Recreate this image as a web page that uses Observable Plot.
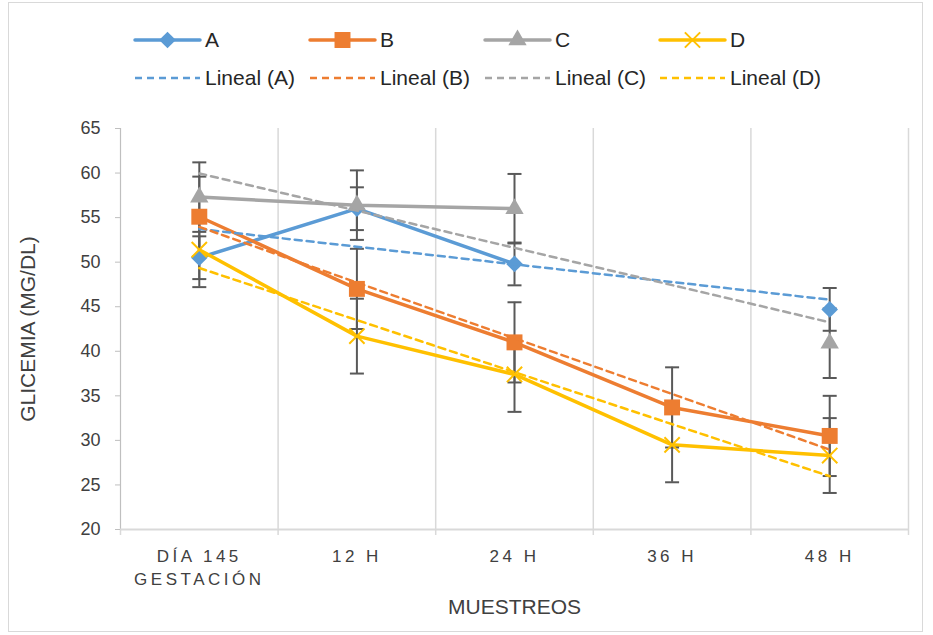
<!DOCTYPE html>
<html><head><meta charset="utf-8">
<script src="https://cdn.jsdelivr.net/npm/d3@7"></script>
<script src="https://cdn.jsdelivr.net/npm/@observablehq/plot@0.6"></script>
<style>
body{margin:0;background:#fff;font-family:"Liberation Sans",Arial,sans-serif;}
#wrap{position:relative;width:933px;height:635px;overflow:hidden;}
#border{position:absolute;left:8px;top:2px;width:915px;height:630px;border:1px solid #d9d9d9;box-sizing:border-box;}
#legend{position:absolute;left:0;top:0;}
#chart{position:absolute;left:0;top:100px;}
#chart [aria-label="x-axis tick label"] text{letter-spacing:3.5px;}
</style></head><body>
<div id="wrap"><div id="border"></div><div id="legend"></div><div id="chart"></div></div>
<script>
// ---- data ----
const categories = ["DÍA 145\nGESTACIÓN", "12 H", "24 H", "36 H", "48 H"];
const seriesNames = ["A", "B", "C", "D"];
const seriesColors = ["#5B9BD5", "#ED7D31", "#A5A5A5", "#FFC000"];
const trendNames = ["Lineal (A)", "Lineal (B)", "Lineal (C)", "Lineal (D)"];
const valuesA = [50.5, 56.0, 49.8, null, 44.7];
const valuesB = [55.1, 47.0, 41.0, 33.7, 30.5];
const valuesC = [57.3, 56.4, 56.0, null, 40.9];
const valuesD = [51.4, 41.7, 37.4, 29.5, 28.3];
const errorsA = [2.4, 2.4, 2.4, null, 2.4];
const errorsB = [4.5, 4.5, 4.5, 4.5, 4.5];
const errorsC = [3.9, 3.9, 3.9, null, 3.9];
const errorsD = [4.2, 4.2, 4.2, 4.2, 4.2];
const yTicks = [20, 25, 30, 35, 40, 45, 50, 55, 60, 65];
const yTitle = "GLICEMIA (MG/DL)";
const xTitle = "MUESTREOS";

const allValues = [valuesA, valuesB, valuesC, valuesD];
const allErrors = [errorsA, errorsB, errorsC, errorsD];
const symbols = ["diamond2", "square", "triangle", "times"];

const rows = [];
seriesNames.forEach((s, si) => {
  allValues[si].forEach((v, i) => rows.push({series: s, x: i + 1, y: v, err: allErrors[si][i]}));
});
const valid = rows.filter(d => d.y != null);
const centers = categories.map((_, i) => i + 1);
const bounds = [0.5, ...categories.map((_, i) => i + 1.5)];

const hline = {draw(ctx, size) { const r = Math.sqrt(size / Math.PI); ctx.moveTo(-r, 0); ctx.lineTo(r, 0); }};
const textColor = "#404040";
const font = '"Liberation Sans", Arial, sans-serif';

const chart = Plot.plot({
  width: 933, height: 535,
  marginLeft: 120, marginRight: 25, marginTop: 28, marginBottom: 106,
  x: {type: "linear", domain: [0.5, categories.length + 0.5]},
  y: {domain: [20, 65]},
  color: {domain: seriesNames, range: seriesColors},
  symbol: {domain: seriesNames, range: symbols},
  style: {fontFamily: font, fontSize: "17px", color: textColor, background: "transparent"},
  marks: [
    Plot.ruleX(bounds.slice(1), {stroke: "#d9d9d9", strokeWidth: 1.5}),
    Plot.ruleX([0.5], {stroke: "#bfbfbf", strokeWidth: 1.2}),
    Plot.ruleY([20], {stroke: "#d9d9d9", strokeWidth: 2}),
    Plot.axisX(bounds, {tickSize: 6, stroke: "#d9d9d9", strokeWidth: 1.5, tickFormat: () => "", label: null}),
    Plot.axisX(centers, {tickSize: 0, tickPadding: 16, tickFormat: i => categories[i - 1], fontSize: 17, fill: textColor, label: null, lineHeight: 1.35}),
    Plot.axisY(yTicks, {tickSize: 5, tickPadding: 15, stroke: "#bfbfbf", fontSize: 18, fill: textColor, label: null}),
    Plot.line(rows, {x: "x", y: "y", z: "series", stroke: "series", strokeWidth: 3.5, curve: "linear"}),
    Plot.ruleX(valid, {x: "x", y1: d => d.y - d.err, y2: d => d.y + d.err, stroke: "#595959", strokeWidth: 2}),
    Plot.dot(valid, {x: "x", y: d => d.y - d.err, symbol: () => hline, r: 7, stroke: "#595959", strokeWidth: 2, fill: "none"}),
    Plot.dot(valid, {x: "x", y: d => d.y + d.err, symbol: () => hline, r: 7, stroke: "#595959", strokeWidth: 2, fill: "none"}),
    Plot.dot(valid.filter(d => d.series === "A"), {x: "x", y: "y", symbol: "series", fill: "series", r: 7.5}),
    Plot.dot(valid.filter(d => d.series === "B"), {x: "x", y: "y", symbol: "series", fill: "series", r: 9}),
    Plot.dot(valid.filter(d => d.series === "C"), {x: "x", y: "y", symbol: "series", fill: "series", r: 6.8}),
    Plot.dot(valid.filter(d => d.series === "D"), {x: "x", y: "y", symbol: "series", stroke: "series", fill: "none", r: 7, strokeWidth: 2}),
    Plot.linearRegressionY(valid, {x: "x", y: "y", z: "series", stroke: "series", strokeWidth: 2.5, strokeDasharray: "7,5", ci: 0}),
    Plot.text([yTitle], {frameAnchor: "left", textAnchor: "middle", lineAnchor: "middle", dx: -92, rotate: -90, fontSize: 21, fill: textColor}),
    Plot.text([xTitle], {frameAnchor: "bottom", lineAnchor: "middle", dy: 78, fontSize: 21, fill: textColor})
  ]
});
document.getElementById("chart").appendChild(chart);

// ---- legend (above the chart) ----
const lg = d3.select("#legend").append("svg").attr("width", 933).attr("height", 100)
  .style("font-family", font).style("font-size", "21px");
seriesNames.forEach((s, i) => {
  const x0 = 135 + i * 175;
  const g1 = lg.append("g").attr("transform", `translate(${x0},40)`);
  g1.append("line").attr("x1", 0).attr("x2", 65).attr("stroke", seriesColors[i]).attr("stroke-width", 3.5).attr("stroke-linecap", "round");
  const symType = [d3.symbolDiamond2, d3.symbolSquare, d3.symbolTriangle, d3.symbolTimes][i];
  const size = [7.5, 9, 6.8, 7][i];
  const p = g1.append("path").attr("transform", "translate(32.5,0)").attr("d", d3.symbol(symType, size * size * Math.PI)());
  if (i === 3) p.attr("fill", "none").attr("stroke", seriesColors[i]).attr("stroke-width", 2);
  else p.attr("fill", seriesColors[i]);
  g1.append("text").attr("x", 70).attr("dy", "0.35em").attr("fill", "#262626").text(s);
  const g2 = lg.append("g").attr("transform", `translate(${x0},78)`);
  g2.append("line").attr("x1", 0).attr("x2", 65).attr("stroke", seriesColors[i]).attr("stroke-width", 2.5).attr("stroke-dasharray", "7,5");
  g2.append("text").attr("x", 70).attr("dy", "0.35em").attr("fill", "#262626").text(trendNames[i]);
});
</script>
</body></html>
